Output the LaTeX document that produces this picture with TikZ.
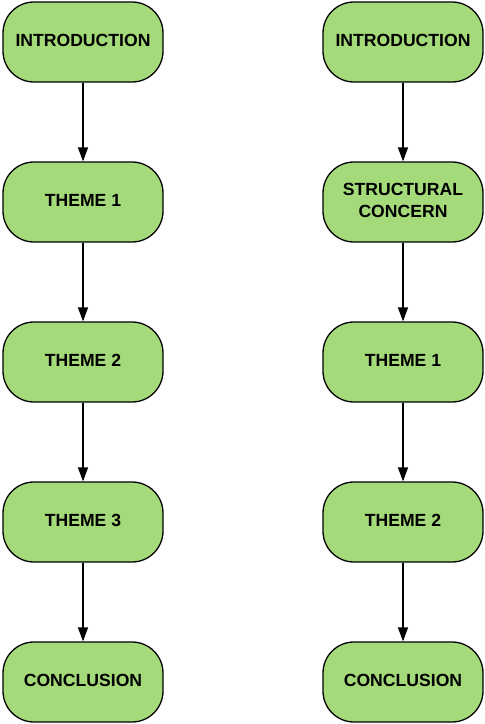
\documentclass[tikz,border=0pt]{standalone}
\usepackage{fontspec}
\setmainfont{Liberation Sans}
\usetikzlibrary{arrows.meta}
\definecolor{nodegreen}{HTML}{A4DA79}
\tikzset{
  stage/.style={draw=black, line width=1.3pt, fill=nodegreen, rounded corners=31pt,
    minimum width=160pt, minimum height=80pt, inner sep=0pt, align=center,
    font=\fontsize{17.6pt}{22pt}\selectfont\bfseries},
  flow/.style={draw=black, line width=1.3pt, -{Triangle[length=14pt,width=10pt]}},
  lbl/.style={inner sep=0pt, align=center, font=\fontsize{17.6pt}{22pt}\selectfont\bfseries}
}
\begin{document}
\begin{tikzpicture}[x=1pt,y=1pt]
\useasboundingbox (0,0) rectangle (485,-724);
\foreach \n/\x/\y/\t in {l1/83/-42/INTRODUCTION, l2/83/-202/THEME 1, l3/83/-362/THEME 2,
  l4/83/-522/THEME 3, l5/83/-682/CONCLUSION, r1/403/-42/INTRODUCTION,
  r2/403/-202/{STRUCTURAL\\CONCERN}, r3/403/-362/THEME 1, r4/403/-522/THEME 2,
  r5/403/-682/CONCLUSION}
{
  \node[stage] (\n) at (\x,\y) {};
  \node[lbl] (\n-t) at ([yshift=2pt]\n.center) {\t};
}
\foreach \a/\b in {l1/l2,l2/l3,l3/l4,l4/l5,r1/r2,r2/r3,r3/r4,r4/r5}
  \draw[flow] (\a) -- (\b);
\end{tikzpicture}
\end{document}
